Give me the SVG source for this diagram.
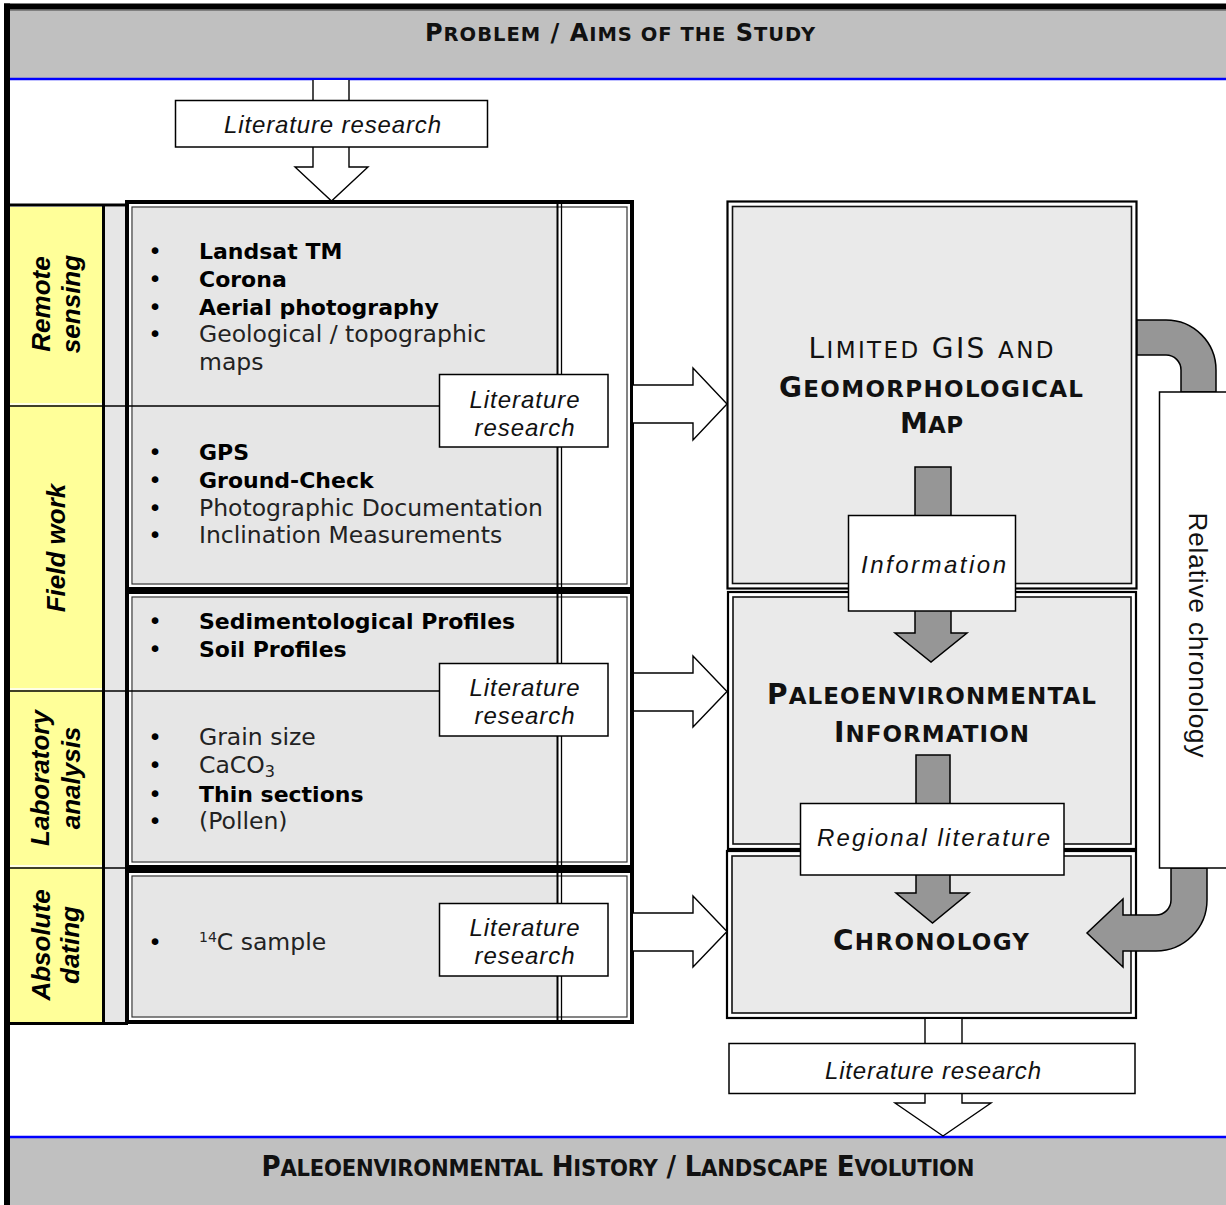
<svg xmlns="http://www.w3.org/2000/svg" width="1226" height="1205" viewBox="0 0 1226 1205">
<defs>
<style>
.bold{font-family:"DejaVu Sans",Verdana,sans-serif;font-weight:bold;font-size:22px;fill:#000}
.reg{font-family:"DejaVu Sans",Verdana,sans-serif;font-size:23.5px;fill:#222}
.bul{font-family:"DejaVu Sans",sans-serif;font-size:23px;fill:#000}
.it{font-family:"Liberation Sans",Arial,sans-serif;font-style:italic;font-size:24px;fill:#111}
.lab{font-family:"Liberation Sans",Arial,sans-serif;font-style:italic;font-weight:bold;font-size:26px;fill:#000}
.ttl{font-family:"DejaVu Sans",Verdana,sans-serif;font-weight:bold;fill:#111}
.ttlc{font-family:"DejaVu Sans Condensed","DejaVu Sans",sans-serif;font-stretch:condensed;font-weight:bold;fill:#111}
.ttlr{font-family:"DejaVu Sans",Verdana,sans-serif;fill:#111}
.rel{font-family:"Liberation Sans",Arial,sans-serif;font-size:26px;fill:#111}
.hollow{fill:#fff;stroke:#000;stroke-width:1.4}
.grayarr{fill:#969696;stroke:#000;stroke-width:1.5}
.box{fill:#fff;stroke:#000;stroke-width:1.5}
.outerL{fill:#fff;stroke:#000;stroke-width:4}
.innerL{fill:none;stroke:#333;stroke-width:1.2}
.outerR{fill:#fff;stroke:#000;stroke-width:2.2}
.innerR{fill:#eaeaea;stroke:#111;stroke-width:1.6}
.grayL{fill:#e6e6e6}
.div{stroke:#000;stroke-width:1.6}
</style>
</defs>
<rect x="0" y="0" width="1226" height="1205" fill="#fff"/>

<g id="header">
<rect x="10" y="9" width="1216" height="70" fill="#c0c0c0"/>
<line x1="10" y1="10.5" x2="1226" y2="10.5" stroke="#808080" stroke-width="1"/>
<line x1="10" y1="79" x2="1226" y2="79" stroke="#0000ff" stroke-width="2.5"/>
<text class="ttl" x="620" y="41" text-anchor="middle" textLength="390" lengthAdjust="spacing"><tspan font-size="24">P</tspan><tspan font-size="19.5">ROBLEM</tspan><tspan font-size="24"> / A</tspan><tspan font-size="19.5">IMS OF THE</tspan><tspan font-size="24"> S</tspan><tspan font-size="19.5">TUDY</tspan></text>
</g>
<g id="footer">
<rect x="10" y="1138" width="1216" height="67" fill="#c0c0c0"/>
<line x1="10" y1="1137" x2="1226" y2="1137" stroke="#0000ff" stroke-width="2.5"/>
<text class="ttlc" x="618" y="1176" text-anchor="middle" textLength="713" lengthAdjust="spacing"><tspan font-size="29">P</tspan><tspan font-size="23.5">ALEOENVIRONMENTAL</tspan><tspan font-size="29"> H</tspan><tspan font-size="23.5">ISTORY</tspan><tspan font-size="29"> / L</tspan><tspan font-size="23.5">ANDSCAPE</tspan><tspan font-size="29"> E</tspan><tspan font-size="23.5">VOLUTION</tspan></text>
</g>
<rect x="4" y="3.5" width="1222" height="6" fill="#000"/>
<rect x="4" y="3.5" width="6" height="1202" fill="#000"/>

<g id="label-column">
<rect x="10" y="207" width="92" height="816" fill="#ffff99"/>
<rect x="105" y="207" width="21" height="816" fill="#e6e6e6"/>
<line x1="10" y1="205" x2="128" y2="205" stroke="#000" stroke-width="3"/>
<line x1="103.5" y1="205" x2="103.5" y2="1024" stroke="#000" stroke-width="3"/>
<line x1="10" y1="404" x2="102" y2="404" stroke="#fff" stroke-width="1.5"/>
<line x1="10" y1="689" x2="102" y2="689" stroke="#fff" stroke-width="1.5"/>
<line x1="10" y1="866" x2="102" y2="866" stroke="#fff" stroke-width="1.5"/>
<line x1="10" y1="868" x2="128" y2="868" class="div"/>
<line x1="10" y1="1023.5" x2="128" y2="1023.5" stroke="#000" stroke-width="3"/>
</g>
<g id="label-remote-sensing"><text class="lab" text-anchor="middle" transform="translate(50,304) rotate(-90)">Remote</text><text class="lab" text-anchor="middle" transform="translate(79.5,304) rotate(-90)">sensing</text></g>
<g id="label-field-work"><text class="lab" text-anchor="middle" transform="translate(64.5,548) rotate(-90)">Field work</text></g>
<g id="label-laboratory"><text class="lab" text-anchor="middle" transform="translate(49,778) rotate(-90)">Laboratory</text><text class="lab" text-anchor="middle" transform="translate(80,778) rotate(-90)">analysis</text></g>
<g id="label-dating"><text class="lab" text-anchor="middle" transform="translate(50,945) rotate(-90)">Absolute</text><text class="lab" text-anchor="middle" transform="translate(79,945) rotate(-90)">dating</text></g>

<g id="box-remote-field">
<rect class="outerL" x="127" y="202" width="505" height="387"/>
<rect class="grayL" x="133" y="207.5" width="424" height="376"/>
<rect class="innerL" x="132" y="207" width="495" height="377"/>
<text class="bul" x="155" y="259" text-anchor="middle">•</text><text class="bold" x="199" y="259">Landsat TM</text>
<text class="bul" x="155" y="287" text-anchor="middle">•</text><text class="bold" x="199" y="287">Corona</text>
<text class="bul" x="155" y="315" text-anchor="middle">•</text><text class="bold" x="199" y="315">Aerial photography</text>
<text class="bul" x="155" y="342" text-anchor="middle">•</text><text class="reg" x="199" y="342">Geological / topographic</text>
<text class="reg" x="199" y="370">maps</text>
<text class="bul" x="155" y="460" text-anchor="middle">•</text><text class="bold" x="199" y="460">GPS</text>
<text class="bul" x="155" y="488" text-anchor="middle">•</text><text class="bold" x="199" y="488">Ground-Check</text>
<text class="bul" x="155" y="516" text-anchor="middle">•</text><text class="reg" x="199" y="516">Photographic Documentation</text>
<text class="bul" x="155" y="543" text-anchor="middle">•</text><text class="reg" x="199" y="543">Inclination Measurements</text>
</g>
<g id="box-profiles-lab">
<rect class="outerL" x="127" y="592" width="505" height="275"/>
<rect class="grayL" x="133" y="597.5" width="424" height="264"/>
<rect class="innerL" x="132" y="597" width="495" height="265"/>
<text class="bul" x="155" y="629" text-anchor="middle">•</text><text class="bold" x="199" y="629">Sedimentological Profiles</text>
<text class="bul" x="155" y="657" text-anchor="middle">•</text><text class="bold" x="199" y="657">Soil Profiles</text>
<text class="bul" x="155" y="745" text-anchor="middle">•</text><text class="reg" x="199" y="745">Grain size</text>
<text class="bul" x="155" y="773" text-anchor="middle">•</text><text class="reg" x="199" y="773">CaCO<tspan font-size="16" dy="4">3</tspan></text>
<text class="bul" x="155" y="802" text-anchor="middle">•</text><text class="bold" x="199" y="802">Thin sections</text>
<text class="bul" x="155" y="829" text-anchor="middle">•</text><text class="reg" x="199" y="829">(Pollen)</text>
</g>
<g id="box-dating">
<rect class="outerL" x="127" y="871" width="505" height="151"/>
<rect class="grayL" x="133" y="876.5" width="424" height="140"/>
<rect class="innerL" x="132" y="876" width="495" height="141"/>
<text class="bul" x="155" y="950" text-anchor="middle">•</text><text class="reg" x="199" y="950"><tspan font-size="14" dy="-8">14</tspan><tspan dy="8">C sample</tspan></text>
</g>
<g id="left-dividers">
<line x1="10" y1="406" x2="440" y2="406" class="div"/>
<line x1="10" y1="691" x2="440" y2="691" class="div"/>
<line x1="557.5" y1="201" x2="557.5" y2="1024" stroke="#000" stroke-width="2"/>
<line x1="561.5" y1="201" x2="561.5" y2="1024" stroke="#000" stroke-width="1.3"/>
</g>

<g id="box-gis">
<rect class="outerR" x="727.5" y="201.5" width="409" height="387"/>
<rect class="innerR" x="732.5" y="206.5" width="399" height="377"/>
<text class="ttlr" x="931" y="358" text-anchor="middle" textLength="245" lengthAdjust="spacing"><tspan font-size="28">L</tspan><tspan font-size="23">IMITED</tspan><tspan font-size="28"> GIS </tspan><tspan font-size="23">AND</tspan></text>
<text class="ttl" x="931" y="397" text-anchor="middle" textLength="304" lengthAdjust="spacing"><tspan font-size="28">G</tspan><tspan font-size="23">EOMORPHOLOGICAL</tspan></text>
<text class="ttl" x="931.5" y="433" text-anchor="middle" textLength="63" lengthAdjust="spacing"><tspan font-size="28">M</tspan><tspan font-size="23">AP</tspan></text>
</g>
<g id="box-paleo">
<rect class="outerR" x="728" y="592" width="408" height="257"/>
<rect class="innerR" x="733" y="597" width="398" height="247"/>
<text class="ttl" x="931.5" y="704" text-anchor="middle" textLength="329" lengthAdjust="spacing"><tspan font-size="28">P</tspan><tspan font-size="23">ALEOENVIRONMENTAL</tspan></text>
<text class="ttl" x="931.5" y="742" text-anchor="middle" textLength="195" lengthAdjust="spacing"><tspan font-size="28">I</tspan><tspan font-size="23">NFORMATION</tspan></text>
</g>
<g id="box-chronology">
<rect class="outerR" x="727" y="851" width="409" height="167"/>
<rect class="innerR" x="732" y="856" width="399" height="157"/>
<text class="ttl" x="931" y="950" text-anchor="middle" textLength="196" lengthAdjust="spacing"><tspan font-size="28">C</tspan><tspan font-size="23">HRONOLOGY</tspan></text>
</g>

<g id="connectors">
<path class="hollow" d="M313,80 V167 H295 L331.5,201 L368,167 H349 V80"/>
<path class="hollow" d="M633,385 H693 V368 L727,404 L693,440 V423 H633"/>
<path class="hollow" d="M634,673 H693 V656 L727,691.5 L693,727 V711 H634"/>
<path class="hollow" d="M633,913 H693 V896 L727,931.5 L693,967 V951 H633"/>
<path class="hollow" d="M925,1019 V1103 H895 L943,1136 L991,1103 H962 V1019"/>
<path class="grayarr" d="M915,467 H951 V633 H967 L931,662 L895,633 H915 Z"/>
<path class="grayarr" d="M916,755 H950 V893 H969 L932.5,923 L896,893 H916 Z"/>
<path class="grayarr" d="M1137,320 H1166 A50,50 0 0 1 1216,370 V392 H1181 V370 A15,15 0 0 0 1166,355 H1137 Z"/>
<path class="grayarr" d="M1171,868 V900 A15,15 0 0 1 1156,915 H1123 V899 L1087,933 L1123,967 V951 H1156 A51,51 0 0 0 1207,900 V868 Z"/>
</g>

<g id="lit-top"><rect class="box" x="175.5" y="100.5" width="312" height="46.5"/><text class="it" x="332.5" y="133" text-anchor="middle" textLength="217" lengthAdjust="spacing">Literature research</text></g>
<g id="lit-1"><rect class="box" x="439.5" y="374.5" width="168.5" height="72.5"/><text class="it" x="524.5" y="408" text-anchor="middle" textLength="110" lengthAdjust="spacing">Literature</text><text class="it" x="524.5" y="436" text-anchor="middle" textLength="100" lengthAdjust="spacing">research</text></g>
<g id="lit-2"><rect class="box" x="439.5" y="663.5" width="168.5" height="72.5"/><text class="it" x="524.5" y="696" text-anchor="middle" textLength="110" lengthAdjust="spacing">Literature</text><text class="it" x="524.5" y="724" text-anchor="middle" textLength="100" lengthAdjust="spacing">research</text></g>
<g id="lit-3"><rect class="box" x="439.5" y="903.5" width="168.5" height="72.5"/><text class="it" x="524.5" y="936" text-anchor="middle" textLength="110" lengthAdjust="spacing">Literature</text><text class="it" x="524.5" y="964" text-anchor="middle" textLength="100" lengthAdjust="spacing">research</text></g>
<g id="information"><rect class="box" x="848.5" y="515.5" width="167" height="95.5"/><text class="it" x="933.5" y="573" text-anchor="middle" font-size="25.5" textLength="145" lengthAdjust="spacing">Information</text></g>
<g id="regional-literature"><rect class="box" x="800.5" y="803.5" width="263.5" height="71.5"/><text class="it" x="933.5" y="846" text-anchor="middle" font-size="25.5" textLength="233" lengthAdjust="spacing">Regional literature</text></g>
<g id="lit-bottom"><rect class="box" x="729" y="1043.5" width="406" height="50"/><text class="it" x="933" y="1079" text-anchor="middle" textLength="216" lengthAdjust="spacing">Literature research</text></g>
<g id="relative-chronology"><rect class="box" x="1159.5" y="392" width="80" height="476"/><text class="rel" text-anchor="middle" transform="translate(1189,635) rotate(90)" textLength="245" lengthAdjust="spacing">Relative chronology</text></g>
</svg>
